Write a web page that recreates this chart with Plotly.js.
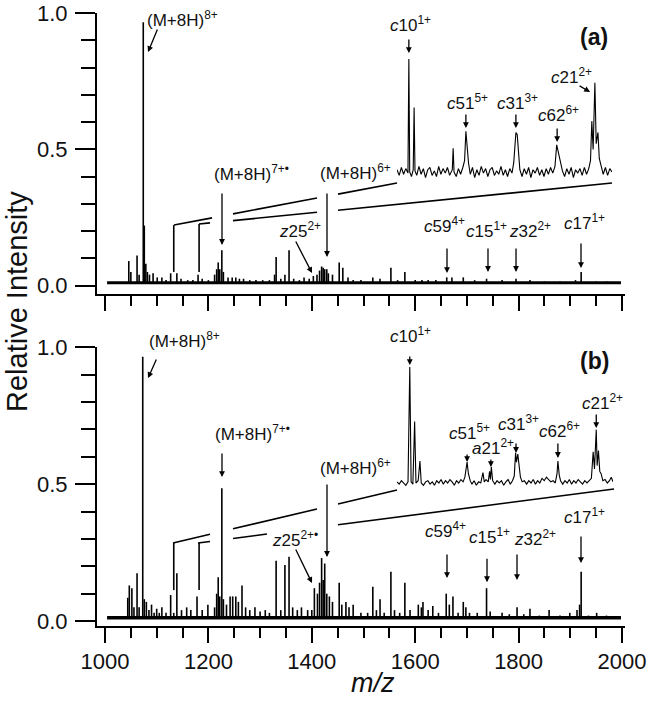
<!DOCTYPE html>
<html><head><meta charset="utf-8">
<script src="https://cdn.plot.ly/plotly-3.0.1.min.js"></script>
<style>html,body{margin:0;padding:0;background:#fff}#chart{width:647px;height:703px}</style>
</head><body><div id="chart"></div>
<script>
// ---------- DATA ----------
// Panel (a): stick peaks (m/z, relative intensity)
const peaksA_mz  = [1046,1050,1062,1066,1074,1076,1079,1082,1086,1093,1101,1110,1118,1127,1139,1147,1160,1170,1180,1188,1200,1212,1216,1219,1222,1226,1229,1238,1246,1253,1260,1268,1280,1292,1305,1318,1328,1331,1340,1348,1356,1365,1376,1385,1395,1403,1410,1415,1419,1422,1425,1429,1432,1440,1453,1460,1470,1480,1495,1518,1532,1553,1566,1580,1600,1613,1625,1640,1661,1671,1693,1715,1738,1768,1795,1822,1850,1880,1910,1921,1950,1970];
const peaksA_int = [0.09,0.05,0.11,0.04,0.967,0.22,0.08,0.05,0.04,0.045,0.03,0.03,0.02,0.045,0.045,0.025,0.02,0.02,0.04,0.025,0.02,0.04,0.06,0.085,0.06,0.13,0.05,0.03,0.03,0.03,0.025,0.025,0.02,0.02,0.02,0.02,0.04,0.105,0.025,0.04,0.13,0.025,0.02,0.03,0.025,0.035,0.04,0.055,0.07,0.065,0.06,0.06,0.045,0.04,0.085,0.065,0.03,0.02,0.02,0.03,0.025,0.065,0.02,0.05,0.02,0.02,0.02,0.02,0.03,0.03,0.03,0.02,0.025,0.02,0.025,0.02,0.015,0.015,0.02,0.05,0.015,0.015];
// Panel (b)
const peaksB_mz  = [1044,1047,1052,1056,1062,1066,1073,1076,1080,1085,1090,1095,1100,1105,1110,1118,1127,1133,1139,1148,1158,1166,1178,1188,1199,1212,1216,1219,1222,1226,1229,1235,1242,1247,1253,1258,1265,1272,1280,1290,1300,1310,1318,1331,1340,1348,1356,1363,1372,1380,1392,1400,1405,1411,1415,1419,1422,1425,1429,1434,1440,1453,1458,1466,1472,1480,1495,1508,1518,1525,1532,1540,1553,1560,1570,1580,1590,1606,1612,1615,1625,1634,1645,1660,1666,1673,1683,1693,1698,1705,1720,1738,1745,1768,1782,1797,1810,1822,1840,1859,1880,1899,1913,1918,1921,1935,1951,1970];
const peaksB_int = [0.085,0.13,0.12,0.05,0.175,0.05,0.965,0.08,0.07,0.04,0.06,0.03,0.045,0.03,0.05,0.03,0.095,0.03,0.175,0.04,0.05,0.04,0.09,0.04,0.06,0.05,0.1,0.16,0.09,0.485,0.08,0.06,0.09,0.09,0.09,0.07,0.13,0.05,0.04,0.05,0.035,0.04,0.03,0.22,0.04,0.205,0.235,0.05,0.04,0.05,0.04,0.04,0.12,0.1,0.14,0.23,0.15,0.21,0.1,0.09,0.07,0.14,0.06,0.07,0.05,0.06,0.03,0.03,0.125,0.04,0.08,0.03,0.18,0.04,0.03,0.14,0.04,0.06,0.05,0.07,0.04,0.055,0.03,0.1,0.06,0.09,0.03,0.07,0.05,0.03,0.03,0.12,0.035,0.03,0.025,0.05,0.025,0.045,0.02,0.04,0.02,0.03,0.04,0.06,0.18,0.02,0.03,0.02];
// Baseline of the spectra
const baseA_mz = [1004,1998], baseA_int = [0.010,0.010];
const baseB_mz = [1004,1998], baseB_int = [0.012,0.012];
// Insets: magnified region m/z 1133-1182 (inset-relative intensity)
const insetA_mz  = [1133.0,1133.5,1134.0,1134.5,1135.0,1135.5,1135.7,1135.9,1136.3,1136.7,1136.9,1137.1,1137.5,1138.0,1138.5,1139.0,1139.5,1140.0,1140.5,1141.0,1141.5,1142.0,1142.5,1143.0,1143.5,1144.0,1144.5,1145.0,1145.6,1145.8,1146.0,1146.5,1147.0,1147.5,1148.0,1148.4,1148.7,1149.0,1149.3,1149.7,1150.2,1150.7,1151.2,1151.7,1152.2,1152.7,1153.2,1153.7,1154.2,1154.7,1155.2,1155.7,1156.2,1156.7,1157.2,1157.7,1158.2,1158.7,1159.2,1159.6,1159.9,1160.1,1160.4,1160.7,1161.0,1161.5,1162.0,1162.5,1163.0,1163.5,1164.0,1164.5,1165.0,1165.5,1166.0,1166.5,1167.0,1167.5,1168.0,1168.5,1169.0,1169.4,1169.7,1170.0,1170.3,1170.7,1171.2,1171.7,1172.2,1172.7,1173.2,1173.7,1174.2,1174.7,1175.2,1175.7,1176.2,1176.7,1177.1,1177.4,1177.7,1178.1,1178.4,1178.8,1179.1,1179.5,1180.0,1180.5,1181.0,1181.5,1182.0];
const insetA_int = [0.02,-0.03,0.04,-0.02,0.03,-0.01,1.00,0.00,-0.04,0.02,0.57,0.01,-0.03,0.05,-0.02,0.03,-0.05,0.02,0.04,-0.03,0.01,-0.04,0.05,-0.02,0.03,-0.01,0.04,-0.03,0.02,0.21,0.00,-0.04,0.03,-0.02,0.04,0.10,0.36,0.20,0.08,-0.02,0.04,-0.05,0.02,-0.03,0.05,-0.01,0.03,-0.04,0.02,0.04,-0.03,0.01,-0.02,0.05,-0.03,0.02,-0.04,0.03,-0.01,0.08,0.30,0.35,0.33,0.12,0.02,-0.04,0.03,-0.02,0.04,-0.05,0.02,-0.01,0.04,-0.03,0.02,-0.04,0.03,-0.02,0.04,-0.01,0.05,0.24,0.18,0.12,0.07,0.01,-0.04,0.03,-0.02,0.04,-0.05,0.02,-0.01,0.03,-0.03,0.04,-0.02,0.03,0.10,0.45,0.20,0.79,0.25,0.35,0.12,0.06,-0.02,0.04,-0.03,0.03,0.00];
const insetB_mz  = [1133.0,1133.5,1134.0,1134.5,1135.0,1135.5,1135.9,1136.2,1136.6,1137.0,1137.3,1137.8,1138.2,1138.5,1139.0,1139.5,1140.0,1140.5,1141.0,1141.5,1142.0,1142.5,1143.0,1143.5,1144.0,1144.5,1145.0,1145.5,1146.0,1146.5,1147.0,1147.5,1148.0,1148.4,1148.7,1148.9,1149.2,1149.6,1150.0,1150.5,1151.0,1151.5,1152.0,1152.5,1152.8,1153.2,1153.7,1154.0,1154.2,1154.4,1154.7,1155.2,1155.7,1156.2,1156.7,1157.2,1157.7,1158.2,1158.7,1159.2,1159.6,1159.9,1160.1,1160.4,1160.7,1161.0,1161.4,1161.9,1162.4,1162.9,1163.4,1163.9,1164.4,1164.9,1165.4,1165.9,1166.4,1166.9,1167.4,1167.9,1168.4,1168.9,1169.3,1169.5,1169.8,1170.1,1170.6,1171.1,1171.6,1172.1,1172.6,1173.1,1173.6,1174.1,1174.6,1175.1,1175.6,1176.1,1176.6,1177.1,1177.5,1177.8,1178.2,1178.4,1178.7,1179.0,1179.3,1179.7,1180.2,1180.7,1181.2,1181.6,1182.0];
const insetB_int = [0.01,-0.01,0.02,0.00,-0.02,0.01,1.00,0.01,-0.01,0.53,0.00,0.02,0.19,0.00,-0.02,0.01,0.02,-0.01,0.01,-0.02,0.02,0.00,0.03,-0.01,0.02,0.00,0.03,0.01,-0.02,0.02,0.00,0.03,0.01,0.05,0.15,0.18,0.08,0.02,-0.01,0.02,-0.02,0.01,0.00,0.09,0.01,0.03,0.01,0.10,0.03,0.14,0.02,-0.01,0.02,0.00,0.02,-0.02,0.01,0.03,-0.01,0.02,0.06,0.26,0.18,0.25,0.15,0.05,0.01,0.02,-0.01,0.02,0.00,0.03,-0.01,0.02,0.00,0.04,0.02,0.05,0.03,0.01,0.02,0.00,0.08,0.19,0.07,0.02,-0.01,0.02,0.00,0.03,-0.01,0.02,0.00,0.03,0.01,-0.01,0.02,0.00,0.02,0.04,0.27,0.12,0.46,0.15,0.28,0.10,0.08,0.02,0.03,0.00,0.02,0.05,0.01];
const xTickVals = [1000,1200,1400,1600,1800,2000];
const yTickVals = [0,0.5,1.0];
const yTickText = ['0.0','0.5','1.0'];

// ---------- HELPERS ----------
const L=97,R=625,T=13,B=626;
const PX = p => (p-L)/(R-L);
const PY = p => (B-p)/(B-T);
const FONT = 'Liberation Sans, Arial, sans-serif';
function sticks(mz, inten, base){
  const x=[],y=[];
  for(let i=0;i<mz.length;i++){ x.push(mz[i],mz[i],null); y.push(base,inten[i],null); }
  return {x,y};
}
const sA = sticks(peaksA_mz, peaksA_int, baseA_int[0]);
const sB = sticks(peaksB_mz, peaksB_int, baseB_int[0]);

const traces = [
  {x:baseB_mz,y:baseB_int,xaxis:'x',yaxis:'y',mode:'lines',line:{color:'#000',width:3.5},hoverinfo:'skip'},
  {x:sB.x,y:sB.y,xaxis:'x',yaxis:'y',mode:'lines',line:{color:'#000',width:1.6},hoverinfo:'skip'},
  {x:baseA_mz,y:baseA_int,xaxis:'x2',yaxis:'y2',mode:'lines',line:{color:'#000',width:3},hoverinfo:'skip'},
  {x:sA.x,y:sA.y,xaxis:'x2',yaxis:'y2',mode:'lines',line:{color:'#000',width:1.6},hoverinfo:'skip'},
  {x:insetA_mz,y:insetA_int,xaxis:'x3',yaxis:'y3',mode:'lines',line:{color:'#000',width:1.1},hoverinfo:'skip'},
  {x:insetB_mz,y:insetB_int,xaxis:'x4',yaxis:'y4',mode:'lines',line:{color:'#000',width:1.1},hoverinfo:'skip'}
];

const xBase = {
  range:[984.53,2005.8], showline:true, linewidth:2, linecolor:'#000', showgrid:false, zeroline:false,
  ticks:'outside', ticklen:15, tickwidth:2, tickcolor:'#000', tickvals:xTickVals,
  tickfont:{family:FONT,size:22,color:'#111'},
  minor:{dtick:50, tick0:1000, ticks:'outside', ticklen:10, tickwidth:2, tickcolor:'#000', showgrid:false}
};
const yBase = {
  showline:true, linewidth:2, linecolor:'#000', showgrid:false, zeroline:false,
  ticks:'outside', ticklen:20, tickwidth:2, tickcolor:'#000', tickvals:yTickVals, ticktext:yTickText,
  tickfont:{family:FONT,size:22,color:'#111'}, ticklabelstandoff:3,
  minor:{dtick:0.1, tick0:0, ticks:'outside', ticklen:14, tickwidth:2, tickcolor:'#000', showgrid:false}
};

// shapes: zoom brackets and connector lines (with gaps where arrows cross)
const shapes = [];
function vline(xref,yref,x,y0,y1){ shapes.push({type:'line',xref,yref,x0:x,x1:x,y0,y1,line:{color:'#000',width:1.6}}); }
function seg(p0,p1,xa,xb){
  const f = x => p0[1] + (p1[1]-p0[1])*(x-p0[0])/(p1[0]-p0[0]);
  shapes.push({type:'line',xref:'paper',yref:'paper',x0:PX(xa),x1:PX(xb),y0:PY(f(xa)),y1:PY(f(xb)),line:{color:'#000',width:1.6}});
}
// panel a
vline('x2','y2',1133,0.05,0.222); vline('x2','y2',1182,0.05,0.226);
[[174,212],[233,317],[338,397]].forEach(s=>seg([174,225],[397,183],s[0],s[1]));
[[199,210],[233,317],[338,612]].forEach(s=>seg([199,224],[612,183],s[0],s[1]));
// panel b
vline('x','y',1133,0.113,0.285); vline('x','y',1182,0.113,0.285);
[[173,210],[233,317],[338,397]].forEach(s=>seg([173,543],[397,490],s[0],s[1]));
[[198,210],[233,267],[338,614]].forEach(s=>seg([198,543],[614,489],s[0],s[1]));

const ann = [];
function arr(xr,yr,x,y,ax,ay){
  ann.push({xref:xr,yref:yr,x,y,ax,ay,text:'',showarrow:true,arrowhead:2,arrowsize:0.9,arrowwidth:1.3,arrowcolor:'#000',standoff:0});
}
function lab(text,left,mid,size,bold){
  ann.push({xref:'paper',yref:'paper',x:PX(left),y:PY(mid),xanchor:'left',yanchor:'middle',showarrow:false,
    text: bold?'<b>'+text+'</b>':text, font:{family:FONT,size:size||17,color:'#111'}});
}
const c = s => '<i>c</i>'+s;
// Panel a arrows
arr('x2','y2',1083.2,0.857,10,-24);
arr('x2','y2',1226.3,0.149,0,-53);
arr('x2','y2',1429.4,0.105,0,-65);
arr('x2','y2',1400.4,0.046,-17,-33);
arr('x2','y2',1661.5,0.046,0,-26);
arr('x2','y2',1740.8,0.050,0,-25);
arr('x2','y2',1795.0,0.050,0,-25);
arr('x2','y2',1920.7,0.064,0,-26);
arr('x3','y3',1135.7,1.053,0,-15);
arr('x3','y3',1148.7,0.389,0,-15);
arr('x3','y3',1160.1,0.389,0,-15);
arr('x3','y3',1169.5,0.265,0,-15);
arr('x3','y3',1177.0,0.708,-12,-7);
// Panel b arrows
arr('x','y',1083.2,0.887,9,-20);
arr('x','y',1226.3,0.526,0,-25);
arr('x','y',1429.4,0.234,0,-74);
arr('x','y',1400.4,0.139,-17,-35);
arr('x','y',1661.5,0.157,0,-25);
arr('x','y',1738.9,0.142,0,-25);
arr('x','y',1796.9,0.150,0,-27);
arr('x','y',1920.7,0.212,0,-28);
arr('x4','y4',1135.9,1.017,0,-10);
arr('x4','y4',1148.9,0.181,0,-9);
arr('x4','y4',1154.3,0.138,0,-9);
arr('x4','y4',1160.0,0.259,0,-11);
arr('x4','y4',1169.5,0.216,0,-16);
arr('x4','y4',1178.2,0.474,0,-15);
// Labels panel a
lab('(M+8H)<sup>8+</sup>',145,19);
lab('(M+8H)<sup>7+•</sup>',212,173);
lab('(M+8H)<sup>6+</sup>',318,172);
lab('<i>z</i>25<sup>2+</sup>',277,230);
lab(c('10<sup>1+</sup>'),388,24);
lab('(a)',578,37,23,true);
lab(c('51<sup>5+</sup>'),445,102);
lab(c('31<sup>3+</sup>'),495,102);
lab(c('62<sup>6+</sup>'),536,114);
lab(c('21<sup>2+</sup>'),549,76);
lab(c('59<sup>4+</sup>'),422,225);
lab(c('15<sup>1+</sup>'),464,230);
lab('<i>z</i>32<sup>2+</sup>',507,230);
lab(c('17<sup>1+</sup>'),562,222);
// Labels panel b
lab('(M+8H)<sup>8+</sup>',147,340);
lab('(M+8H)<sup>7+•</sup>',213,433);
lab('(M+8H)<sup>6+</sup>',318,467);
lab('<i>z</i>25<sup>2+•</sup>',270,539);
lab(c('10<sup>1+</sup>'),388,335);
lab('(b)',578,361,23,true);
lab(c('51<sup>5+</sup>'),447,432);
lab('<i>a</i>21<sup>2+</sup>',470,447);
lab(c('31<sup>3+</sup>'),496,423);
lab(c('62<sup>6+</sup>'),537,430);
lab(c('21<sup>2+</sup>'),580,402);
lab(c('59<sup>4+</sup>'),423,530);
lab(c('15<sup>1+</sup>'),467,536);
lab('<i>z</i>32<sup>2+</sup>',512,538);
lab(c('17<sup>1+</sup>'),562,516);
// Axis titles
ann.push({xref:'paper',yref:'paper',x:PX(17),y:PY(302),xanchor:'center',yanchor:'middle',textangle:-90,showarrow:false,
  text:'Relative Intensity',font:{family:FONT,size:29,color:'#111'}});
ann.push({xref:'paper',yref:'paper',x:PX(373),y:PY(683),xanchor:'center',yanchor:'middle',showarrow:false,
  text:'<i>m/z</i>',font:{family:FONT,size:27,color:'#111'}});

const layout = {
  width:647,height:703,margin:{l:L,r:647-R,t:T,b:703-B},
  paper_bgcolor:'#fff',plot_bgcolor:'rgba(0,0,0,0)',showlegend:false,
  font:{family:FONT,color:'#111'},
  xaxis:Object.assign({},xBase,{domain:[0,1],anchor:'y'}),
  xaxis2:Object.assign({},xBase,{domain:[0,1],anchor:'y2',showticklabels:false}),
  yaxis:Object.assign({},yBase,{domain:[0,PY(347)],range:[-0.018,1.0005],anchor:'x'}),
  yaxis2:Object.assign({},yBase,{domain:[PY(294),1],range:[-0.031,1.0005],anchor:'x2'}),
  xaxis3:{domain:[PX(397),PX(612)],range:[1133,1182],anchor:'y3',visible:false},
  yaxis3:{domain:[PY(185),PY(50)],range:[-0.115,1.0796],anchor:'x3',visible:false},
  xaxis4:{domain:[PX(397),PX(613)],range:[1133,1182],anchor:'y4',visible:false},
  yaxis4:{domain:[PY(495),PY(355)],range:[-0.1034,1.1034],anchor:'x4',visible:false},
  shapes:shapes, annotations:ann
};
Plotly.newPlot('chart',traces,layout,{displayModeBar:false,staticPlot:true});
</script></body></html>
